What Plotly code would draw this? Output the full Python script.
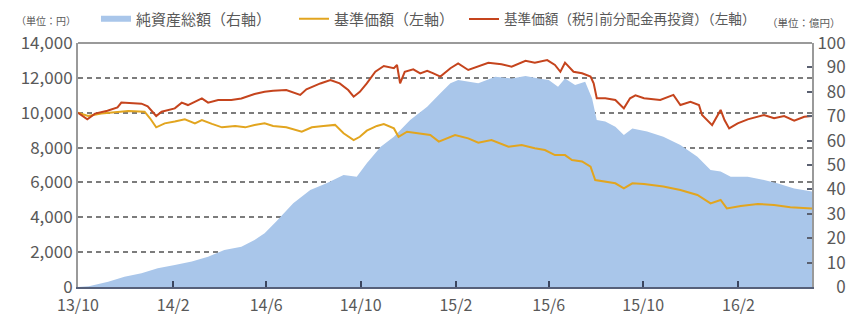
import plotly.graph_objects as go

# ---------------- data ----------------
# 基準価額（税引前分配金再投資）(左軸, 円)
reinv_dates = [
    "2013-10-01", "2013-10-13", "2013-10-23", "2013-11-08", "2013-11-21", "2013-11-26",
    "2013-12-22", "2013-12-30", "2014-01-10", "2014-01-17", "2014-02-03", "2014-02-12",
    "2014-02-20", "2014-03-10", "2014-03-18", "2014-03-31", "2014-04-17", "2014-04-30",
    "2014-05-17", "2014-05-30", "2014-06-10", "2014-06-27", "2014-07-15", "2014-07-23",
    "2014-08-10", "2014-08-23", "2014-09-04", "2014-09-15", "2014-09-22", "2014-09-30",
    "2014-10-09", "2014-10-20", "2014-10-31", "2014-11-13", "2014-11-17", "2014-11-21",
    "2014-11-27", "2014-12-08", "2014-12-17", "2014-12-26", "2015-01-03", "2015-01-12",
    "2015-01-25", "2015-02-04", "2015-02-17", "2015-03-02", "2015-03-15", "2015-04-01",
    "2015-04-14", "2015-05-02", "2015-05-14", "2015-05-30", "2015-06-09", "2015-06-16",
    "2015-06-22", "2015-07-03", "2015-07-14", "2015-07-25", "2015-07-29", "2015-08-02",
    "2015-08-13", "2015-08-26", "2015-09-06", "2015-09-14", "2015-09-21", "2015-10-02",
    "2015-10-23", "2015-11-09", "2015-11-18", "2015-12-01", "2015-12-12", "2015-12-16",
    "2015-12-29", "2016-01-09", "2016-01-14", "2016-01-20", "2016-01-31", "2016-02-13",
    "2016-03-05", "2016-03-18", "2016-03-31", "2016-04-13", "2016-04-26", "2016-05-06",
]
reinv_values = [
    10000, 9620, 9950, 10110, 10300, 10580,
    10520, 10370, 9810, 10060, 10250, 10580,
    10440, 10820, 10580, 10730, 10730, 10820,
    11070, 11200, 11260, 11300, 11020, 11340,
    11680, 11880, 11680, 11300, 10920, 11200,
    11680, 12350, 12680, 12550, 12740, 11690,
    12350, 12490, 12260, 12400, 12260, 12070,
    12550, 12830, 12450, 12640, 12870, 12780,
    12640, 12980, 12870, 13020, 12740, 12350,
    12870, 12350, 12260, 12070, 11690, 10830,
    10830, 10730, 10250, 10830, 11000, 10830,
    10730, 11020, 10440, 10630, 10440, 9870,
    9290, 10160, 9580, 9100, 9390, 9620,
    9870, 9680, 9810, 9540, 9770, 9810,
]

# 基準価額 (左軸, 円)
nav_dates = [
    "2013-10-01", "2013-10-14", "2013-10-31", "2013-11-22", "2013-12-05", "2013-12-26",
    "2014-01-02", "2014-01-10", "2014-01-21", "2014-02-03", "2014-02-16", "2014-03-01",
    "2014-03-10", "2014-03-23", "2014-04-05", "2014-04-22", "2014-05-05", "2014-05-17",
    "2014-05-30", "2014-06-10", "2014-06-27", "2014-07-17", "2014-07-30", "2014-08-14",
    "2014-08-29", "2014-09-09", "2014-09-22", "2014-09-30", "2014-10-09", "2014-10-22",
    "2014-10-31", "2014-11-13", "2014-11-19", "2014-11-30", "2014-12-17", "2014-12-30",
    "2015-01-10", "2015-01-25", "2015-01-31", "2015-02-17", "2015-03-02", "2015-03-19",
    "2015-04-10", "2015-04-27", "2015-05-14", "2015-05-27", "2015-06-09", "2015-06-22",
    "2015-07-01", "2015-07-14", "2015-07-25", "2015-07-31", "2015-08-13", "2015-08-26",
    "2015-09-06", "2015-09-17", "2015-10-02", "2015-10-27", "2015-11-18", "2015-12-10",
    "2015-12-27", "2016-01-09", "2016-01-17", "2016-02-04", "2016-02-26", "2016-03-18",
    "2016-04-08", "2016-05-06",
]
nav_values = [
    10000, 9810, 9950, 10060, 10100, 10060,
    9680, 9160, 9390, 9490, 9620, 9390,
    9580, 9360, 9160, 9240, 9160, 9300,
    9390, 9240, 9160, 8910, 9160, 9240,
    9300, 8820, 8430, 8620, 8970, 9240,
    9350, 9100, 8620, 8910, 8820, 8720,
    8340, 8620, 8720, 8530, 8280, 8430,
    8050, 8150, 7960, 7860, 7570, 7570,
    7290, 7200, 6900, 6140, 6040, 5950,
    5660, 5950, 5910, 5760, 5570, 5280,
    4800, 4990, 4510, 4650, 4760, 4710,
    4570, 4510,
]

# 純資産総額 (右軸, 億円)
aum_dates = [
    "2013-10-01", "2013-10-15", "2013-11-09", "2013-11-30", "2013-12-22", "2014-01-12",
    "2014-02-03", "2014-02-25", "2014-03-18", "2014-04-08", "2014-04-30", "2014-05-17",
    "2014-05-30", "2014-06-14", "2014-07-06", "2014-07-28", "2014-08-18", "2014-09-09",
    "2014-09-26", "2014-10-09", "2014-10-27", "2014-11-13", "2014-12-04", "2014-12-26",
    "2015-01-12", "2015-01-25", "2015-02-04", "2015-03-02", "2015-03-24", "2015-04-14",
    "2015-05-02", "2015-05-19", "2015-06-01", "2015-06-13", "2015-06-22", "2015-07-05",
    "2015-07-18", "2015-07-27", "2015-08-02", "2015-08-13", "2015-08-26", "2015-09-06",
    "2015-09-17", "2015-10-06", "2015-10-27", "2015-11-18", "2015-12-10", "2015-12-27",
    "2016-01-09", "2016-01-22", "2016-02-13", "2016-03-05", "2016-03-22", "2016-04-13",
    "2016-05-06",
]
aum_values = [
    0, 0.3, 2.2, 4.2, 5.6, 7.7,
    9.0, 10.4, 12.4, 15.2, 16.5, 19.3,
    22.0, 26.8, 34.3, 39.8, 42.5, 45.9,
    45.2, 50.7, 57.5, 61.6, 68.4, 73.9,
    79.4, 83.5, 84.8, 83.5, 86.2, 85.5,
    86.5, 85.5, 84.8, 82.1, 85.5, 82.8,
    84.1, 77.3, 68.4, 67.8, 65.7, 62.3,
    65.0, 63.7, 61.6, 58.2, 53.4, 48.0,
    47.3, 45.2, 45.2, 43.9, 42.5, 40.4,
    39.1,
]

# axis ticks
x_tick_dates = ["2013-10-01", "2014-02-01", "2014-06-01", "2014-10-01",
                "2015-02-01", "2015-06-01", "2015-10-01", "2016-02-01"]
x_tick_labels = ["13/10", "14/2", "14/6", "14/10", "15/2", "15/6", "15/10", "16/2"]
left_ticks = [0, 2000, 4000, 6000, 8000, 10000, 12000, 14000]
right_ticks = [0, 10, 20, 30, 40, 50, 60, 70, 80, 90, 100]

FONT = "Noto Sans CJK JP"
GREY_TXT = "#595959"

fig = go.Figure()

fig.add_trace(go.Scatter(
    x=aum_dates, y=aum_values, name="純資産総額（右軸）",
    mode="none", fill="tozeroy", fillcolor="#a9c6ea",
    yaxis="y", hoverinfo="skip", legend="legend",
))
fig.add_trace(go.Scatter(
    x=nav_dates, y=nav_values, name="基準価額（左軸）",
    mode="lines", line=dict(color="#e2a51f", width=2),
    yaxis="y2", hoverinfo="skip", legend="legend2",
))
fig.add_trace(go.Scatter(
    x=reinv_dates, y=reinv_values, name="基準価額（税引前分配金再投資）（左軸）",
    mode="lines", line=dict(color="#c5441d", width=2),
    yaxis="y2", hoverinfo="skip", legend="legend3",
))

right_labels = [("\u2007" * (3 - len(str(v)))) + str(v) for v in right_ticks]
left_labels = [f"{v:,}" for v in left_ticks]


def legend_at(x, size):
    return dict(
        orientation="h", x=x, xanchor="left", y=1.098, yanchor="middle",
        font=dict(size=size, color=GREY_TXT, family=FONT),
        bgcolor="rgba(0,0,0,0)", itemclick=False, itemdoubleclick=False,
    )


fig.update_layout(
    width=851, height=318,
    margin=dict(l=78, r=39, t=43, b=31, autoexpand=False),
    paper_bgcolor="white", plot_bgcolor="white",
    font=dict(family=FONT, color=GREY_TXT, size=14),
    showlegend=True,
    legend=legend_at(0.0245, 15),
    legend2=legend_at(0.2943, 15),
    legend3=legend_at(0.5259, 13.6),
    xaxis=dict(
        type="date", range=["2013-10-01", "2016-05-06"],
        tickmode="array", tickvals=x_tick_dates, ticktext=x_tick_labels,
        ticks="inside", ticklen=6, tickwidth=2, tickcolor="#3b4660",
        ticklabelstandoff=3,
        showline=True, linecolor="#56607a", linewidth=2,
        showgrid=False, zeroline=False,
        tickfont=dict(size=16, color=GREY_TXT, family=FONT),
    ),
    yaxis=dict(
        side="right", range=[0, 100],
        tickmode="array", tickvals=right_ticks, ticktext=right_labels,
        ticks="inside", ticklen=5, tickwidth=1.5, tickcolor="#5a6070",
        showline=True, linecolor="#9a9a9a", linewidth=2,
        showgrid=False, zeroline=False,
        tickfont=dict(size=17, color=GREY_TXT, family=FONT),
    ),
    yaxis2=dict(
        overlaying="y", side="left", range=[0, 14000],
        tickmode="array", tickvals=left_ticks, ticktext=left_labels,
        ticks="", showline=True, linecolor="#9a9a9a", linewidth=2,
        showgrid=True, gridcolor="#7c7c7c", gridwidth=1.5, griddash="5px,4px",
        zeroline=False,
        tickfont=dict(size=17, color=GREY_TXT, family=FONT),
    ),
    shapes=[dict(type="line", xref="paper", yref="paper", x0=0, x1=1, y0=1, y1=1,
                 line=dict(color="#9a9a9a", width=2))],
    annotations=[
        dict(text="（単位：円）", xref="paper", yref="paper", x=-0.087, y=1.094,
             xanchor="left", yanchor="middle", showarrow=False,
             font=dict(size=10, color=GREY_TXT, family=FONT)),
        dict(text="（単位：億円）", xref="paper", yref="paper", x=1.042, y=1.086,
             xanchor="right", yanchor="middle", showarrow=False,
             font=dict(size=10.5, color=GREY_TXT, family=FONT)),
    ],
)

fig.write_html("out.html", config={"displayModeBar": False},
               post_script="document.body.style.margin='0';")
